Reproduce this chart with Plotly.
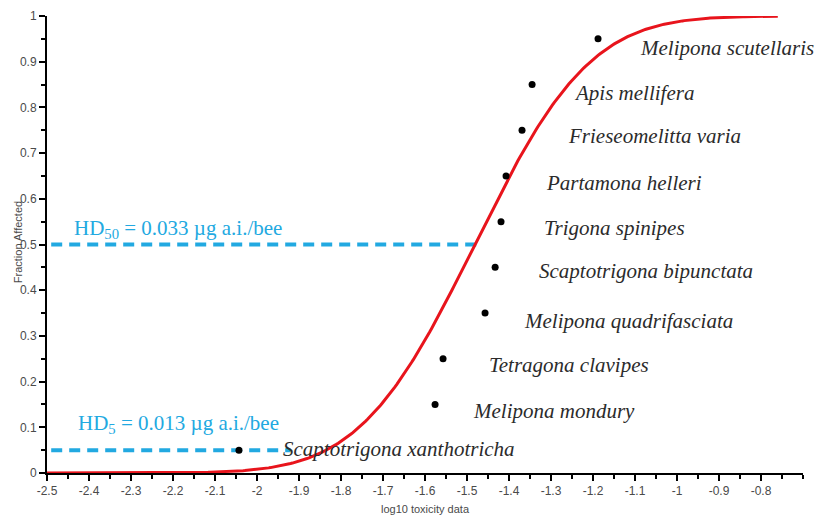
import math
import plotly.graph_objects as go

# Species sensitivity data (log10 toxicity vs. fraction affected)
species = [
    "Scaptotrigona xanthotricha", "Melipona mondury", "Tetragona clavipes",
    "Melipona quadrifasciata", "Scaptotrigona bipunctata", "Trigona spinipes",
    "Partamona helleri", "Frieseomelitta varia", "Apis mellifera",
    "Melipona scutellaris",
]
log_tox = [-2.043, -1.576, -1.557, -1.457, -1.433, -1.419, -1.407, -1.369, -1.345, -1.188]
fraction = [0.05, 0.15, 0.25, 0.35, 0.45, 0.55, 0.65, 0.75, 0.85, 0.95]

# Hazardous doses (µg a.i./bee) and spread of the fitted log-normal SSD
hd50 = 0.033
hd5 = 0.013
ssd_sigma = 0.215

x_tickvals = [-2.5, -2.4, -2.3, -2.2, -2.1, -2.0, -1.9, -1.8, -1.7, -1.6,
              -1.5, -1.4, -1.3, -1.2, -1.1, -1.0, -0.9, -0.8]
x_ticktext = ["-2.5", "-2.4", "-2.3", "-2.2", "-2.1", "-2", "-1.9", "-1.8", "-1.7", "-1.6",
              "-1.5", "-1.4", "-1.3", "-1.2", "-1.1", "-1", "-0.9", "-0.8"]
y_tickvals = [0, 0.1, 0.2, 0.3, 0.4, 0.5, 0.6, 0.7, 0.8, 0.9, 1]
y_ticktext = ["0", "0.1", "0.2", "0.3", "0.4", "0.5", "0.6", "0.7", "0.8", "0.9", "1"]

mu = math.log10(hd50)

def cdf(v):
    return 0.5 * (1 + math.erf((v - mu) / (ssd_sigma * math.sqrt(2))))

n = 400
x0, x1 = -2.5, -0.76
curve_x = [x0 + (x1 - x0) * i / (n - 1) for i in range(n)]
curve_y = [cdf(v) for v in curve_x]

blue = "#22a9e1"
dash = dict(color=blue, width=4, dash="11px,7px")
fig = go.Figure()

fig.add_trace(go.Scatter(x=[-2.49, mu + 0.02], y=[0.5, 0.5], mode="lines",
                         line=dash, hoverinfo="skip"))
fig.add_trace(go.Scatter(x=[-2.49, -1.92], y=[0.05, 0.05], mode="lines",
                         line=dash, hoverinfo="skip"))
fig.add_trace(go.Scatter(x=curve_x, y=curve_y, mode="lines",
                         line=dict(color="#e8141c", width=3)))
fig.add_trace(go.Scatter(x=log_tox, y=fraction, mode="markers",
                         marker=dict(color="black", size=7)))

# Species names beside each point (pixel offsets)
label_shift = {
    "Scaptotrigona xanthotricha": (42, 1),
    "Melipona mondury": (36, -7),
    "Tetragona clavipes": (44, -6),
    "Melipona quadrifasciata": (37, -8),
    "Scaptotrigona bipunctata": (42, -4),
    "Trigona spinipes": (41, -6),
    "Partamona helleri": (38, -7),
    "Frieseomelitta varia": (44, -6),
    "Apis mellifera": (40, -8),
    "Melipona scutellaris": (40, -9),
}
for name, xv, yv in zip(species, log_tox, fraction):
    dx, dy = label_shift[name]
    fig.add_annotation(x=xv, y=yv, text=f"<i>{name}</i>", showarrow=False,
                       xanchor="left", yanchor="middle", xshift=dx, yshift=dy,
                       font=dict(family="Liberation Serif", size=21, color="#2b2b2b"))

fig.add_annotation(x=-2.435, y=0.5, text=f"HD<sub>50</sub> = {hd50} µg a.i./bee",
                   showarrow=False, xanchor="left", yanchor="bottom", xshift=-2, yshift=1,
                   font=dict(family="Liberation Serif", size=21, color=blue))
fig.add_annotation(x=-2.423, y=0.05, text=f"HD<sub>5</sub> = {hd5} µg a.i./bee",
                   showarrow=False, xanchor="left", yanchor="bottom", xshift=-3, yshift=11,
                   font=dict(family="Liberation Serif", size=21, color=blue))

axis_font = dict(family="Liberation Sans", size=12, color="#4a4a4a")
title_font = dict(family="Liberation Sans", size=11, color="#4a4a4a")

# Vertical axis title, placed a little closer to the tick labels
fig.add_annotation(xref="paper", yref="paper", x=-0.0384, y=0.505,
                   text="Fraction Affected", textangle=-90, showarrow=False,
                   xanchor="center", yanchor="middle", font=title_font)

fig.update_layout(
    width=818, height=515,
    margin=dict(l=47, r=15, t=16, b=42),
    paper_bgcolor="white", plot_bgcolor="white",
    showlegend=False,
    xaxis=dict(
        range=[-2.5, -0.7], tickvals=x_tickvals, ticktext=x_ticktext, automargin=False,
        showgrid=False, zeroline=False, showline=True, linecolor="black", linewidth=2,
        ticks="outside", ticklen=6, tickwidth=2, tickcolor="black",
        minor=dict(dtick=0.05, tick0=-2.5, ticks="outside", ticklen=4, tickwidth=2,
                   tickcolor="black", showgrid=False),
        tickfont=axis_font,
        title=dict(text="log10 toxicity data", font=title_font),
    ),
    yaxis=dict(
        range=[0, 1], tickvals=y_tickvals, ticktext=y_ticktext, automargin=False,
        showgrid=False, zeroline=False, showline=True, linecolor="black", linewidth=2,
        ticks="outside", ticklen=6, tickwidth=2, tickcolor="black",
        minor=dict(dtick=0.05, tick0=0, ticks="outside", ticklen=4, tickwidth=2,
                   tickcolor="black", showgrid=False),
        tickfont=axis_font,
    ),
)

fig.write_html("out.html")
